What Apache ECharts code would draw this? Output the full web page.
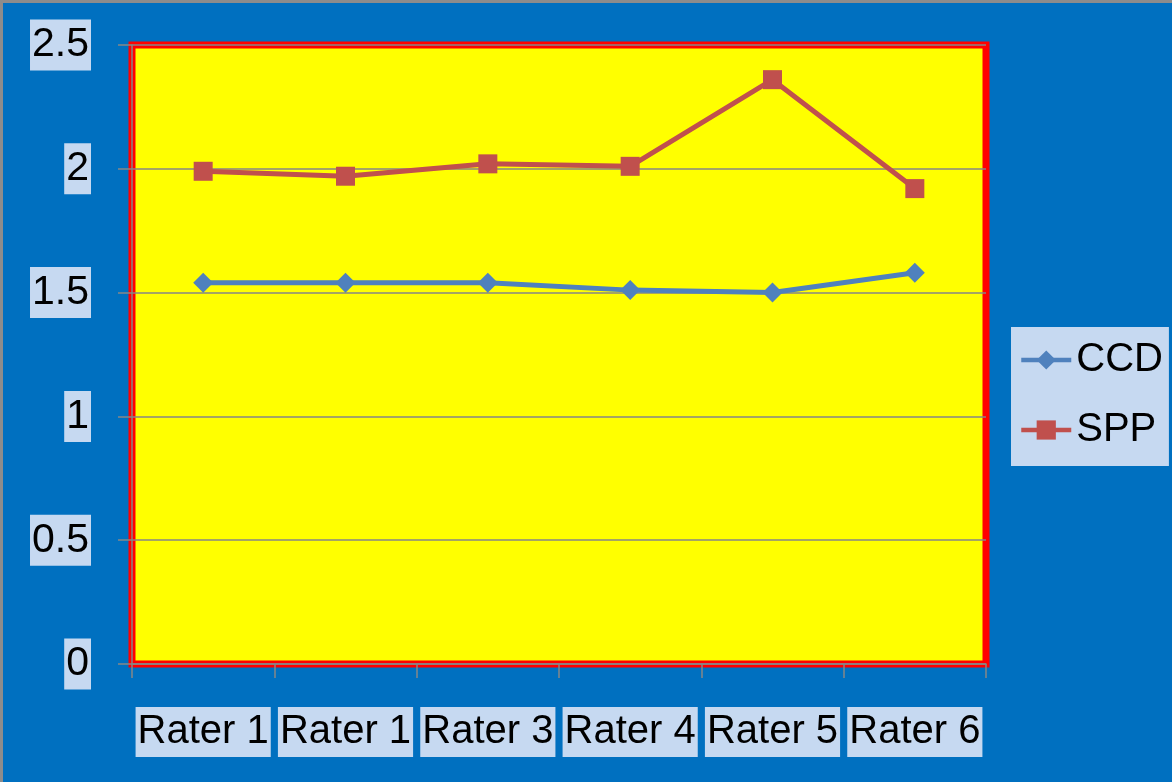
<!DOCTYPE html>
<html>
<head>
<meta charset="utf-8">
<script src="https://cdn.jsdelivr.net/npm/echarts@6/dist/echarts.min.js"></script>
<style>
html,body{margin:0;padding:0;background:#fff;}
#wrap{width:1172px;height:782px;box-sizing:border-box;border-left:3px solid #8c8c8c;border-top:3px solid #8c8c8c;background:#0070C0;}
#chart{width:1169px;height:779px;}
</style>
</head>
<body>
<div id="wrap"><div id="chart"></div></div>
<script>
const categories = ["Rater 1", "Rater 1", "Rater 3", "Rater 4", "Rater 5", "Rater 6"];
const ccdValues = [1.54, 1.54, 1.54, 1.51, 1.50, 1.58];
const sppValues = [1.99, 1.97, 2.02, 2.01, 2.36, 1.92];
const seriesNames = ["CCD", "SPP"];

const FONT = "'Liberation Sans', Arial, sans-serif";
const chart = echarts.init(document.getElementById('chart'));
chart.setOption({
  backgroundColor: '#0070C0',
  animation: false,
  grid: {
    left: 129, top: 42, right: 186, bottom: 118,
    show: true, backgroundColor: '#FFFF00', borderColor: '#FF0000', borderWidth: 7
  },
  legend: {
    orient: 'vertical', left: 1008, top: 324,
    backgroundColor: '#C6D9F1', padding: [8, 6, 11, 8],
    itemWidth: 50, itemHeight: 24, itemGap: 20,
    lineStyle: { width: 4.5 },
    textStyle: { fontFamily: FONT, fontSize: 40, color: '#000', lineHeight: 50 },
    data: seriesNames
  },
  xAxis: {
    type: 'category', data: categories, boundaryGap: true,
    axisLine: { lineStyle: { color: '#868686', width: 1.5 } },
    axisTick: { show: true, length: 14, lineStyle: { color: '#868686', width: 1.5 } },
    axisLabel: {
      margin: 43, fontFamily: FONT, fontSize: 40, color: '#000',
      backgroundColor: '#C6D9F1', padding: [5, 2, 5, 2], interval: 0
    }
  },
  yAxis: {
    type: 'value', min: 0, max: 2.5, interval: 0.5,
    axisLine: { show: true, lineStyle: { color: '#868686', width: 1.5 } },
    axisTick: { show: true, length: 14, lineStyle: { color: '#868686', width: 1.5 } },
    splitLine: { lineStyle: { color: '#868686', width: 1.5 } },
    axisLabel: {
      margin: 41, fontFamily: FONT, fontSize: 41, color: '#000',
      backgroundColor: '#C6D9F1', padding: [5, 2, 5, 2],
      formatter: v => String(v)
    }
  },
  series: [
    {
      name: seriesNames[0], type: 'line', data: ccdValues,
      symbol: 'diamond', symbolSize: 20,
      lineStyle: { color: '#4F81BD', width: 5 },
      itemStyle: { color: '#4F81BD' }
    },
    {
      name: seriesNames[1], type: 'line', data: sppValues,
      symbol: 'rect', symbolSize: 19,
      lineStyle: { color: '#C0504D', width: 5 },
      itemStyle: { color: '#C0504D' }
    }
  ]
});
</script>
</body>
</html>
